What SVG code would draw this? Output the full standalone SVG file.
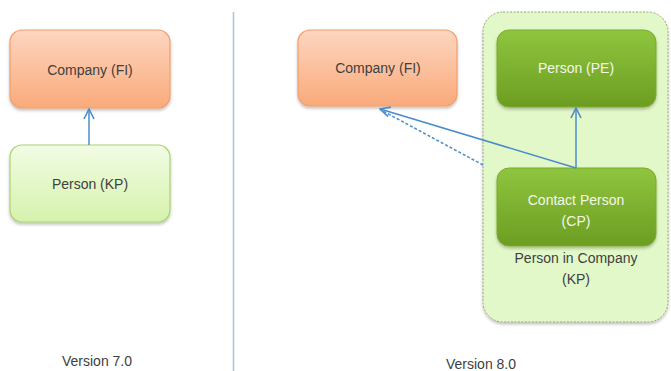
<svg xmlns="http://www.w3.org/2000/svg" width="671" height="371" viewBox="0 0 671 371">
<defs>
<linearGradient id="gOrange" x1="0" y1="0" x2="0" y2="1"><stop offset="0" stop-color="#fdd6c0"/><stop offset="1" stop-color="#faaa7a"/></linearGradient>
<linearGradient id="gLight" x1="0" y1="0" x2="0" y2="1"><stop offset="0" stop-color="#f2fce4"/><stop offset="1" stop-color="#d6f2ac"/></linearGradient>
<linearGradient id="gDark" x1="0" y1="0" x2="0" y2="1"><stop offset="0" stop-color="#8fc53e"/><stop offset="1" stop-color="#6c9d22"/></linearGradient>
<filter id="sh" x="-10%" y="-10%" width="120%" height="130%"><feDropShadow dx="0" dy="2" stdDeviation="1.5" flood-color="#000" flood-opacity="0.25"/></filter>
<marker id="arr" viewBox="0 0 12 12" refX="11" refY="6" markerWidth="12" markerHeight="12" markerUnits="userSpaceOnUse" orient="auto"><path d="M1,1 L11,6 L1,11" fill="none" stroke="#4a8ccb" stroke-width="1.6"/></marker>
</defs>
<style>
text{font-family:"Liberation Sans",Arial,sans-serif;font-size:14px;text-anchor:middle}
.dk{fill:#404040}
.wt{fill:#f4f6ea}
.orange{fill:url(#gOrange);stroke:#f29e6a;stroke-width:1.2}
.light{fill:url(#gLight);stroke:#a9d36e;stroke-width:1.2}
.dark{fill:url(#gDark);stroke:#7aab30;stroke-width:1}
.conn{stroke:#4a8ccb;stroke-width:1.5;fill:none}
</style>
<line x1="233.5" y1="12" x2="233.5" y2="371" stroke="#a9c3dc" stroke-width="1.5"/>
<g id="company-v7">
<rect x="10" y="30" width="160" height="78" rx="12" class="orange" filter="url(#sh)"/>
<text x="90" y="75" class="dk">Company (FI)</text>
</g>
<g id="person-v7">
<rect x="10" y="145" width="160" height="77" rx="12" class="light" filter="url(#sh)"/>
<text x="90" y="189" class="dk">Person (KP)</text>
</g>
<g id="company-v8">
<rect x="298" y="30" width="159" height="76" rx="12" class="orange" filter="url(#sh)"/>
<text x="378" y="73" class="dk">Company (FI)</text>
</g>
<g id="person-in-company">
<rect x="483" y="12" width="185" height="310" rx="20" fill="#e2f8c8" stroke="#8fa870" stroke-width="1" stroke-dasharray="2,1.5" filter="url(#sh)"/>
<text x="576" y="263" class="dk">Person in Company</text>
<text x="576" y="284" class="dk">(KP)</text>
</g>
<g id="person-pe">
<rect x="497" y="30" width="159" height="77" rx="12" class="dark" filter="url(#sh)"/>
<text x="576" y="73" class="wt">Person (PE)</text>
</g>
<g id="contact-person">
<rect x="497" y="168" width="159" height="78" rx="12" class="dark" filter="url(#sh)"/>
<text x="576" y="205" class="wt">Contact Person</text>
<text x="576" y="226" class="wt">(CP)</text>
</g>
<g id="connectors">
<line x1="89" y1="145" x2="89" y2="109" class="conn" marker-end="url(#arr)"/>
<line x1="576" y1="168" x2="576" y2="108" class="conn" marker-end="url(#arr)"/>
<line x1="576" y1="168" x2="380" y2="109" class="conn" marker-end="url(#arr)"/>
<line x1="483" y1="165" x2="381" y2="110" class="conn" stroke-dasharray="3,2"/>
</g>
<text x="97" y="366" class="dk">Version 7.0</text>
<text x="481" y="369" class="dk">Version 8.0</text>
</svg>
